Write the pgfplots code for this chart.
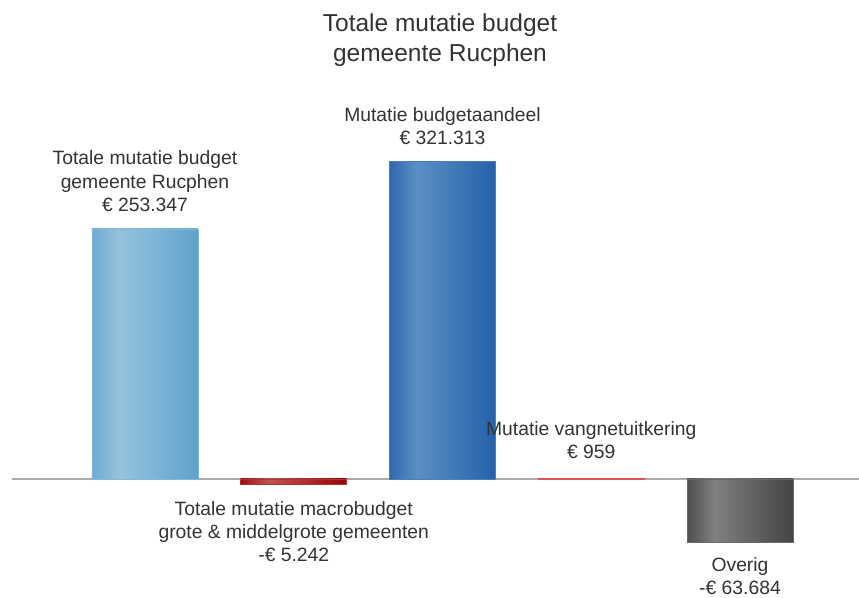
\documentclass[border=0pt]{standalone}
\usepackage{pgfplots}
\pgfplotsset{compat=1.18}
\usepackage{fontspec}
\setmainfont{Liberation Sans}

\definecolor{txt}{HTML}{333333}
\definecolor{baseln}{HTML}{AAAAAA}
% light blue
\definecolor{lbL}{HTML}{6EABD1}
\definecolor{lbH}{HTML}{96C3DC}
\definecolor{lbR}{HTML}{5FA2CC}
% dark blue
\definecolor{dbL}{HTML}{2E68AD}
\definecolor{dbH}{HTML}{5B8FC5}
\definecolor{dbR}{HTML}{2461A8}
% red
\definecolor{rdL}{HTML}{9E1010}
\definecolor{rdH}{HTML}{C25252}
\definecolor{rdR}{HTML}{950505}
\definecolor{rdLight}{HTML}{DD5555}
% grey
\definecolor{gyL}{HTML}{4E4E4E}
\definecolor{gyH}{HTML}{808080}
\definecolor{gyR}{HTML}{444444}

\pgfdeclarehorizontalshading{shLB}{100bp}{color(0bp)=(lbL); color(25bp)=(lbL); color(38bp)=(lbH); color(75bp)=(lbR); color(100bp)=(lbR)}
\pgfdeclarehorizontalshading{shDB}{100bp}{color(0bp)=(dbL); color(25bp)=(dbL); color(38bp)=(dbH); color(75bp)=(dbR); color(100bp)=(dbR)}
\pgfdeclarehorizontalshading{shRD}{100bp}{color(0bp)=(rdL); color(25bp)=(rdL); color(38bp)=(rdH); color(75bp)=(rdR); color(100bp)=(rdR)}
\pgfdeclarehorizontalshading{shGY}{100bp}{color(0bp)=(gyL); color(25bp)=(gyL); color(38bp)=(gyH); color(75bp)=(gyR); color(100bp)=(gyR)}

\tikzset{lbl/.style={text=txt, align=center, inner sep=0pt,
        font={\fontsize{19.3}{23.3}\selectfont}}}

\begin{document}
\begin{tikzpicture}
\path[use as bounding box] (0,0) rectangle (859pt,597pt);
\node[anchor=north, align=center, inner sep=0pt, text=txt,
      font={\fontsize{24.5}{30}\selectfont}] at (440pt,583.5pt)
      {Totale mutatie budget\\gemeente Rucphen};
\begin{axis}[
    at={(12pt,0pt)}, anchor=south west,
    scale only axis, width=847pt, height=597pt,
    xmin=-0.894, xmax=4.8,
    ymin=-119534, ymax=485227,
    axis x line=middle, axis line style={-, draw=baseln, line width=1.4pt},
    hide y axis,
    xtick=\empty, ytick=\empty,
    clip=false,
  ]
  \addplot[ybar, bar width=0.7126, bar shift=0pt, shading=shLB, draw=lbL!85!white, line width=0.7pt]
    coordinates {(0,253347)};
  \addplot[ybar, bar width=0.7126, bar shift=0pt, shading=shRD, draw=rdL!85!white, line width=0.7pt]
    coordinates {(1,-5242)};
  \addplot[ybar, bar width=0.7126, bar shift=0pt, shading=shDB, draw=dbL!85!white, line width=0.7pt]
    coordinates {(2,321313)};
  \addplot[ybar, bar width=0.7126, bar shift=0pt, fill=rdLight, draw=rdLight, line width=0.5pt]
    coordinates {(3,959)};
  \addplot[ybar, bar width=0.7126, bar shift=0pt, shading=shGY, draw=gyL!85!white, line width=0.7pt]
    coordinates {(4,-63684)};

  \node[lbl, anchor=south, yshift=17pt] at (axis cs:0,253347)
    {Totale mutatie budget\\gemeente Rucphen\\€ 253.347};
  \node[lbl, anchor=north, yshift=-17pt] at (axis cs:1,-5242)
    {Totale mutatie macrobudget\\grote \& middelgrote gemeenten\\-€ 5.242};
  \node[lbl, anchor=south, yshift=17pt] at (axis cs:2,321313)
    {Mutatie budgetaandeel\\€ 321.313};
  \node[lbl, anchor=south, yshift=19pt] at (axis cs:3,959)
    {Mutatie vangnetuitkering\\€ 959};
  \node[lbl, anchor=north, yshift=-15pt] at (axis cs:4,-63684)
    {Overig\\-€ 63.684};
\end{axis}
\end{tikzpicture}
\end{document}
